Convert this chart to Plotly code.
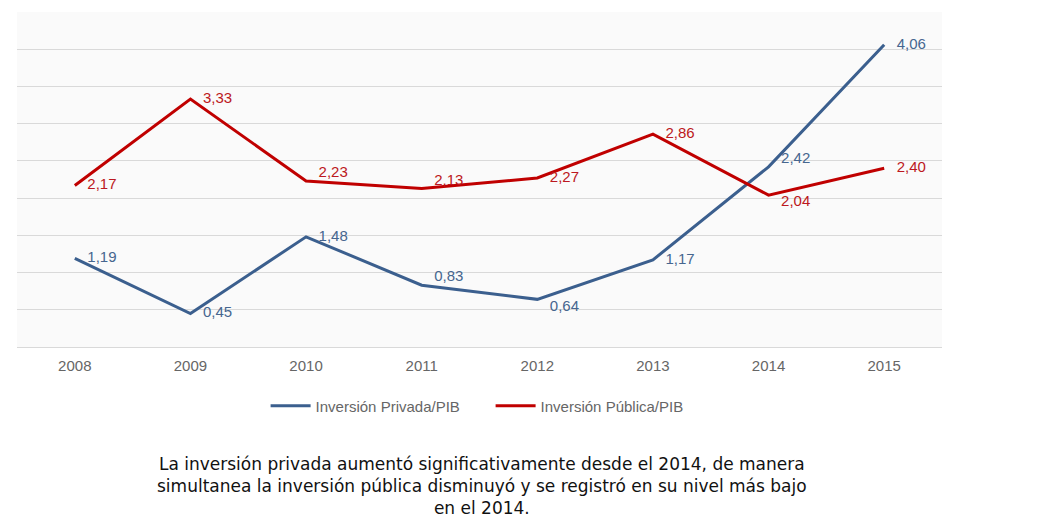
import plotly.graph_objects as go

years = ["2008", "2009", "2010", "2011", "2012", "2013", "2014", "2015"]
privada = [1.19, 0.45, 1.48, 0.83, 0.64, 1.17, 2.42, 4.06]
publica = [2.17, 3.33, 2.23, 2.13, 2.27, 2.86, 2.04, 2.40]
name_priv = "Inversión Privada/PIB"
name_pub = "Inversión Pública/PIB"
caption = [
    "La inversión privada aumentó significativamente desde el 2014, de manera",
    "simultanea la inversión pública disminuyó y se registró en su nivel más bajo",
    "en el 2014.",
]

def fmt(v):
    return "\u00a0\u00a0\u00a0" + f"{v:.2f}".replace(".", ",")

pos_priv = ["middle right", "middle right", "middle right", "top right",
            "bottom right", "middle right", "top right", "middle right"]
pos_pub = ["middle right", "middle right", "top right", "top right",
           "middle right", "middle right", "bottom right", "middle right"]

blue = "#3B5F8E"
red = "#C00000"

fig = go.Figure()
fig.add_trace(go.Scatter(
    x=years, y=privada, name=name_priv, mode="lines+text",
    line=dict(color=blue, width=3),
    text=[fmt(v) for v in privada], textposition=pos_priv,
    textfont=dict(color="#46668F", size=15, family="Arial"),
    cliponaxis=False,
))
fig.add_trace(go.Scatter(
    x=years, y=publica, name=name_pub, mode="lines+text",
    line=dict(color=red, width=3),
    text=[fmt(v) for v in publica], textposition=pos_pub,
    textfont=dict(color="#BC1820", size=15, family="Arial"),
    cliponaxis=False,
))

fig.add_annotation(
    text="<br>".join(caption), xref="paper", yref="paper",
    x=(474 - 9) / 925, y=(339 - 478) / 335,
    xanchor="center", yanchor="middle", showarrow=False, align="center",
    font=dict(family="DejaVu Sans", size=17, color="#111111"),
)

fig.update_layout(
    width=1059, height=522,
    margin=dict(l=9, r=125, t=4, b=183),
    paper_bgcolor="#ffffff", plot_bgcolor="#fafafa",
    font=dict(family="Arial", color="#595959"),
    legend=dict(orientation="h", x=0.512, y=(339 - 398) / 335,
                xanchor="center", yanchor="middle",
                itemwidth=40, entrywidth=170, entrywidthmode="pixels",
                font=dict(size=15, color="#666666", family="Arial"),
                bgcolor="rgba(0,0,0,0)"),
    showlegend=True,
)
fig.update_xaxes(type="category", range=[-0.5, 7.5], showgrid=False,
                 showline=False, ticks="", ticklabelstandoff=8,
                 tickfont=dict(size=15, color="#666666"))
fig.update_yaxes(range=[0, 4.5], dtick=0.5, showgrid=True, gridcolor="#d9d9d9",
                 gridwidth=1, showticklabels=False, zeroline=True,
                 zerolinecolor="#d9d9d9", zerolinewidth=1)

fig.write_html("out.html")
